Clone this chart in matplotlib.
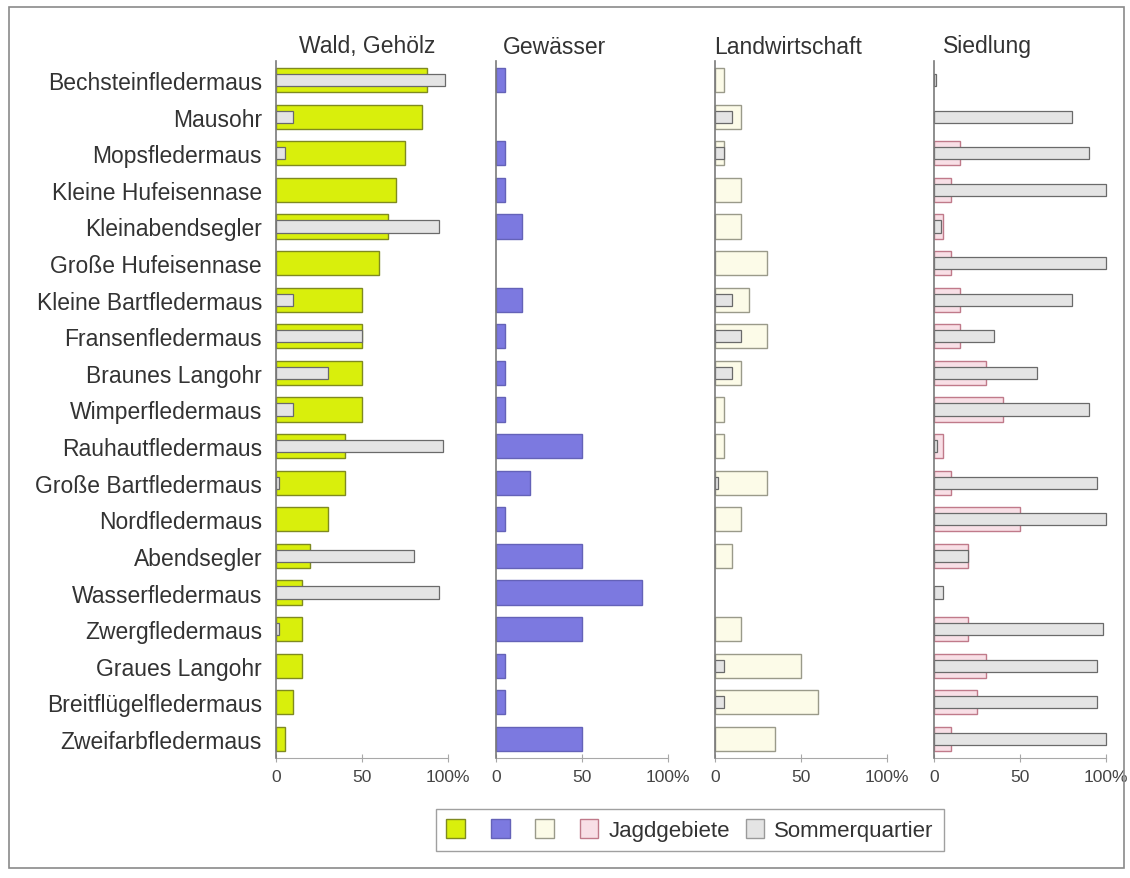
import numpy as np
import matplotlib
matplotlib.use("Agg")
from matplotlib import pyplot as plt
from matplotlib.patches import Patch, Rectangle

plt.rcParams['font.family'] = ['Liberation Sans', 'DejaVu Sans']

species = ["Bechsteinfledermaus", "Mausohr", "Mopsfledermaus", "Kleine Hufeisennase",
           "Kleinabendsegler", "Große Hufeisennase", "Kleine Bartfledermaus",
           "Fransenfledermaus", "Braunes Langohr", "Wimperfledermaus",
           "Rauhautfledermaus", "Große Bartfledermaus", "Nordfledermaus",
           "Abendsegler", "Wasserfledermaus", "Zwergfledermaus", "Graues Langohr",
           "Breitflügelfledermaus", "Zweifarbfledermaus"]

panels = ["Wald, Gehölz", "Gewässer", "Landwirtschaft", "Siedlung"]

# Jagdgebiete (hunting areas), % per habitat
jagd_wald = [88, 85, 75, 70, 65, 60, 50, 50, 50, 50, 40, 40, 30, 20, 15, 15, 15, 10, 5]
jagd_gewaesser = [5, 0, 5, 5, 15, 0, 15, 5, 5, 5, 50, 20, 5, 50, 85, 50, 5, 5, 50]
jagd_landwirtschaft = [5, 15, 5, 15, 15, 30, 20, 30, 15, 5, 5, 30, 15, 10, 0, 15, 50, 60, 35]
jagd_siedlung = [0, 0, 15, 10, 5, 10, 15, 15, 30, 40, 5, 10, 50, 20, 0, 20, 30, 25, 10]

# Sommerquartier (summer roosts), % per habitat
quartier_wald = [98, 10, 5, 0, 95, 0, 10, 50, 30, 10, 97, 2, 0, 80, 95, 2, 0, 0, 0]
quartier_gewaesser = [0] * 19
quartier_landwirtschaft = [0, 10, 5, 0, 0, 0, 10, 15, 10, 0, 0, 2, 0, 0, 0, 0, 5, 5, 0]
quartier_siedlung = [1, 80, 90, 100, 4, 100, 80, 35, 60, 90, 2, 95, 100, 20, 5, 98, 95, 95, 100]

jagd = [jagd_wald, jagd_gewaesser, jagd_landwirtschaft, jagd_siedlung]
quartier = [quartier_wald, quartier_gewaesser, quartier_landwirtschaft, quartier_siedlung]

fills = ["#d9ef0c", "#7c79e0", "#fcfbe8", "#f8dfe6"]
edges = ["#7f8a20", "#6462b8", "#9a9a8a", "#c07a8a"]
roost_fill = "#e4e4e4"
roost_edge = "#6a6a6a"

W, H = 1130, 879
fig = plt.figure(figsize=(W / 100, H / 100), dpi=100)

lefts = [276, 496, 715, 934]
width_px = 172
bottom_px, top_px = 759, 62
title_x = [367, 555, 788, 987]

y = np.arange(len(species))

for i in range(4):
    ax = fig.add_axes([lefts[i] / W, 1 - bottom_px / H, width_px / W, (bottom_px - top_px) / H])
    j = np.array(jagd[i])
    q = np.array(quartier[i])
    ax.barh(y[j > 0], j[j > 0], height=0.66, color=fills[i], edgecolor=edges[i],
            linewidth=1.0, clip_on=False, zorder=2)
    ax.barh(y[q > 0], q[q > 0], height=0.33, color=roost_fill, edgecolor=roost_edge,
            linewidth=0.9, clip_on=False, zorder=3)
    ax.set_xlim(0, 100)
    ax.set_ylim(len(species) - 0.48, -0.52)
    for s in ["top", "right"]:
        ax.spines[s].set_visible(False)
    ax.spines["left"].set_color("#7a7a7a")
    ax.spines["left"].set_linewidth(1.2)
    ax.spines["left"].set_zorder(4)
    ax.spines["bottom"].set_color("#a8a8a8")
    ax.spines["bottom"].set_linewidth(0.8)
    ax.set_xticks([0, 50, 100])
    ax.set_xticklabels(["0", "50", "100%"])
    ax.tick_params(axis="x", direction="inout", length=6, width=0.8, color="#a8a8a8",
                   labelsize=12.5, labelcolor="#444444", pad=5)
    if i == 0:
        ax.set_yticks(y)
        ax.set_yticklabels(species, fontsize=16.5, color="#333333")
        ax.tick_params(axis="y", length=0, pad=10)
    else:
        ax.set_yticks([])
    fig.text(title_x[i] / W, 1 - 47 / H, panels[i], ha="center", va="center",
             fontsize=16.5, color="#333333")

handles = [Patch(facecolor=fills[k], edgecolor=edges[k]) for k in range(4)]
handles.append(Patch(facecolor=roost_fill, edgecolor="#9a9a9a"))
labels = ["", "", "", "Jagdgebiete", "Sommerquartier"]
leg = fig.legend(handles, labels, loc="center", bbox_to_anchor=(690 / W, 1 - 831 / H),
                 ncol=5, fontsize=16, frameon=True, fancybox=False, edgecolor="#888888",
                 handlelength=0.85, handleheight=0.9, handletextpad=0.45, columnspacing=0.7,
                 borderpad=0.45)
leg.get_frame().set_linewidth(1.0)
for t in leg.get_texts():
    t.set_color("#333333")

fig.patches.append(Rectangle((9 / W, 1 - 869 / H), 1115 / W, 861 / H, transform=fig.transFigure,
                             fill=False, edgecolor="#8a8a8a", linewidth=1.2))

fig.savefig("out.png", dpi=100)
